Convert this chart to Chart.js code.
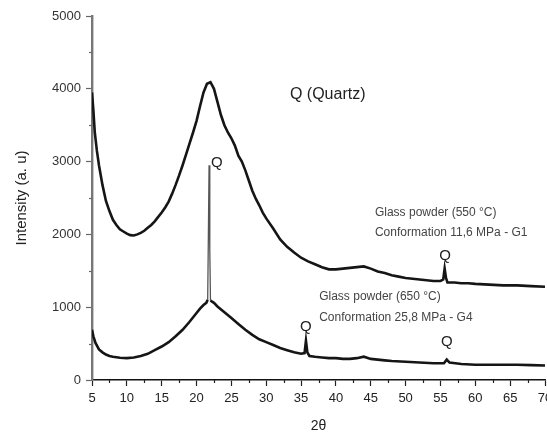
<!DOCTYPE html>
<html>
<head>
<meta charset="utf-8">
<script src="https://cdn.jsdelivr.net/npm/chart.js@4"></script>
<style>
  html, body { margin: 0; padding: 0; background: #fff; }
  #wrap { width: 547px; height: 438px; }
</style>
</head>
<body>
<div id="wrap"><canvas id="xrdChart" width="547" height="438"></canvas></div>
<script>
// 2theta / intensity
const g1Angle = [5.0, 5.2, 5.4, 5.7, 6.0, 6.5, 7.0, 7.5, 8.0, 8.5, 9.0, 9.5, 10.0, 10.5, 11.0, 11.5, 12.0, 12.5, 13.0, 13.5,
  14.0, 14.5, 15.0, 15.5, 16.0, 16.5, 17.0, 17.5, 18.0, 18.5, 19.0, 19.5, 20.0, 20.5, 21.0, 21.5, 22.0, 22.5, 23.0, 23.5,
  24.0, 24.5, 25.0, 25.5, 26.0, 26.5, 27.0, 27.5, 28.0, 28.5, 29.0, 29.5, 30.0, 31.0, 32.0, 33.0, 34.0, 35.0, 36.0, 37.0,
  38.0, 39.0, 40.0, 41.0, 42.0, 43.0, 44.0, 45.0, 46.0, 47.0, 48.0, 49.0, 50.0, 51.0, 52.0, 53.0, 54.0, 55.0, 55.4, 55.6,
  55.8, 56.0, 57.0, 58.0, 59.0, 60.0, 62.0, 64.0, 66.0, 68.0, 70.0];
const g1Intensity = [3950, 3700, 3400, 3150, 2950, 2680, 2460, 2320, 2200, 2130, 2070, 2040, 2010, 1990, 1985, 2000, 2020, 2050, 2090, 2130,
  2180, 2240, 2300, 2370, 2450, 2560, 2680, 2810, 2950, 3100, 3250, 3400, 3560, 3760, 3950, 4070, 4090, 4000, 3820, 3640,
  3500, 3400, 3320, 3220, 3080, 3000, 2880, 2740, 2600, 2490, 2400, 2300, 2220, 2080, 1930, 1830, 1750, 1680, 1630, 1590,
  1550, 1520, 1520, 1530, 1540, 1550, 1560, 1530, 1490, 1470, 1440, 1420, 1400, 1390, 1380, 1370, 1360, 1360, 1380, 1530,
  1400, 1340, 1340, 1330, 1330, 1320, 1310, 1300, 1300, 1290, 1280];

const g4Angle = [5.0, 5.2, 5.5, 6.0, 6.5, 7.0, 7.5, 8.0, 9.0, 10.0, 11.0, 12.0, 13.0, 14.0, 15.0, 16.0, 17.0, 18.0, 19.0, 20.0,
  20.5, 21.0, 21.4, 21.6, 21.7, 21.8, 21.9, 22.0, 22.5, 23.0, 24.0, 25.0, 26.0, 27.0, 28.0, 29.0, 30.0, 31.0, 32.0, 33.0,
  34.0, 35.0, 35.5, 35.7, 35.9, 36.2, 37.0, 38.0, 39.0, 40.0, 41.0, 42.0, 43.0, 44.0, 45.0, 46.0, 47.0, 48.0, 50.0, 52.0,
  54.0, 55.5, 55.9, 56.3, 58.0, 60.0, 62.0, 64.0, 66.0, 68.0, 70.0];
const g4Intensity = [690, 600, 510, 420, 380, 350, 330, 320, 305, 300, 310, 330, 360, 410, 460, 520, 600, 690, 800, 920,
  980, 1030, 1060, 1100, 2000, 2950, 1800, 1090, 1060, 1010, 930, 850, 770, 690, 620, 560, 520, 480, 440, 410,
  380, 360, 370, 540, 380, 330, 320, 310, 300, 300, 290, 290, 300, 320, 290, 280, 270, 260, 250, 240,
  230, 230, 280, 240, 220, 210, 210, 210, 210, 205, 200];

const xTicks = { min: 5, max: 70, step: 5 };
const yTicks = { min: 0, max: 5000, step: 1000 };

// text written on the plot, anchored in data units
const notes = [
  { text: 'Q (Quartz)', x: 33.4, y: 3915, size: 16, align: 'left' },
  { text: 'Q', x: 22.9, y: 2980, size: 15, align: 'center' },
  { text: 'Glass powder (550 °C)', x: 45.6, y: 2294, size: 12, align: 'left' },
  { text: 'Conformation 11,6 MPa - G1', x: 45.6, y: 2019, size: 12, align: 'left' },
  { text: 'Q', x: 55.65, y: 1703, size: 15, align: 'center' },
  { text: 'Glass powder (650 °C)', x: 37.6, y: 1140, size: 12, align: 'left' },
  { text: 'Conformation 25,8 MPa - G4', x: 37.6, y: 852, size: 12, align: 'left' },
  { text: 'Q', x: 35.7, y: 728, size: 15, align: 'center' },
  { text: 'Q', x: 55.9, y: 522, size: 15, align: 'center' }
];

const toPoints = (xs, ys) => xs.map((x, i) => ({ x: x, y: ys[i] }));
const FONT = "'Liberation Sans', Arial, sans-serif";

// sharp quartz spikes are drawn thin and grey like in the scan
const isSpike = c => Math.abs(c.p1.parsed.y - c.p0.parsed.y) > 600;
const segStyle = {
  borderWidth: c => isSpike(c) ? 1.3 : undefined,
  borderColor: c => isSpike(c) ? '#555' : undefined
};

// minor ticks + annotations
const extras = {
  id: 'extras',
  afterDraw(chart) {
    const ctx = chart.ctx;
    const xs = chart.scales.x, ys = chart.scales.y;
    ctx.save();
    ctx.lineWidth = 1.2;
    ctx.strokeStyle = '#222';
    for (let v = xTicks.min + xTicks.step / 2; v < xTicks.max; v += xTicks.step) {
      const px = Math.round(xs.getPixelForValue(v)) + 0.5;
      ctx.beginPath();
      ctx.moveTo(px, ys.bottom);
      ctx.lineTo(px, ys.bottom + 3);
      ctx.stroke();
    }
    ctx.strokeStyle = '#666';
    for (let v = yTicks.min + yTicks.step / 2; v < yTicks.max; v += yTicks.step) {
      const py = Math.round(ys.getPixelForValue(v)) + 0.5;
      ctx.beginPath();
      ctx.moveTo(xs.left - 3, py);
      ctx.lineTo(xs.left, py);
      ctx.stroke();
    }
    ctx.textBaseline = 'middle';
    notes.forEach(n => {
      ctx.font = n.size + 'px ' + FONT;
      ctx.fillStyle = n.size > 13 ? '#222' : '#444';
      ctx.textAlign = n.align;
      ctx.fillText(n.text, xs.getPixelForValue(n.x), ys.getPixelForValue(n.y));
    });
    ctx.restore();
  }
};

const chart = new Chart(document.getElementById('xrdChart').getContext('2d'), {
  type: 'line',
  data: {
    datasets: [
      {
        label: 'G1',
        data: toPoints(g1Angle, g1Intensity),
        borderColor: '#151515',
        borderWidth: 2.6,
        pointRadius: 0,
        tension: 0,
        segment: segStyle
      },
      {
        label: 'G4',
        data: toPoints(g4Angle, g4Intensity),
        borderColor: '#151515',
        borderWidth: 2.6,
        pointRadius: 0,
        tension: 0,
        segment: segStyle
      }
    ]
  },
  options: {
    responsive: false,
    animation: false,
    layout: { padding: { top: 16, right: 2, left: 0, bottom: 0 } },
    plugins: { legend: { display: false }, tooltip: { enabled: false } },
    scales: {
      x: {
        type: 'linear',
        min: xTicks.min,
        max: xTicks.max,
        afterFit: s => { s.height = 58; s.paddingLeft = 0; s.paddingRight = 0; },
        ticks: { stepSize: xTicks.step, color: '#222', padding: 5, maxRotation: 0, font: { family: FONT, size: 13 } },
        grid: { drawOnChartArea: false, tickLength: 6, tickColor: '#222', tickWidth: 1.2 },
        border: { color: '#111', width: 1.6 },
        title: { display: true, text: '2θ', color: '#222', padding: { bottom: 3 }, font: { family: FONT, size: 14 } }
      },
      y: {
        min: yTicks.min,
        max: yTicks.max,
        afterFit: s => { s.width = 92; s.paddingTop = 0; s.paddingBottom = 0; },
        ticks: { stepSize: yTicks.step, color: '#333', padding: 5, font: { family: FONT, size: 13 }, callback: v => String(v) },
        grid: { drawOnChartArea: false, tickLength: 6, tickColor: '#666', tickWidth: 1.2 },
        border: { color: '#777', width: 2.4 },
        title: { display: true, text: 'Intensity (a. u)', color: '#222', padding: { top: 13 }, font: { family: FONT, size: 15 } }
      }
    }
  },
  plugins: [extras]
});
</script>
</body>
</html>
